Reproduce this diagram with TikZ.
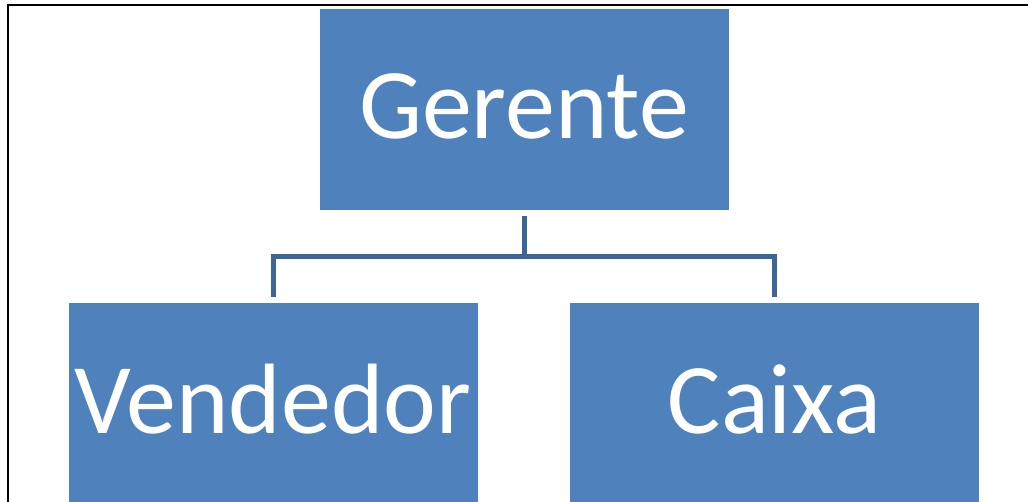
\documentclass[tikz,border=0pt]{standalone}
\usepackage{fontspec}
\setmainfont{Carlito}
\definecolor{boxblue}{HTML}{4F81BD}
\definecolor{linkblue}{HTML}{3E6598}
\begin{document}
\begin{tikzpicture}[x=1pt,y=-1pt,
  orgbox/.style={fill=boxblue, draw=none, minimum width=409pt, minimum height=201pt,
    inner sep=0pt, text=white, font=\fontsize{100}{120}\selectfont,
    text height=65pt, text depth=6pt},
  conn/.style={draw=linkblue, line width=5pt}]
\useasboundingbox (0,0) rectangle (1028,502);
\clip (0,0) rectangle (1028,502);
\draw[line width=1.6pt] (8,503) -- (8,5) -- (1029,5);
\node[orgbox] (ger) at (524,109.5) {Gerente};
\node[orgbox] (ven) at (273,403.5) {Vendedor};
\node[orgbox] (cai) at (774.5,403.5) {Caixa};
\coordinate (mid) at (524,257);
\draw[conn, shorten <=5.5pt] (ger.south) -- (mid);
\draw[conn, shorten >=6pt] (mid) -| (ven.north);
\draw[conn, shorten >=6pt] (mid) -| (cai.north);
\end{tikzpicture}
\end{document}
